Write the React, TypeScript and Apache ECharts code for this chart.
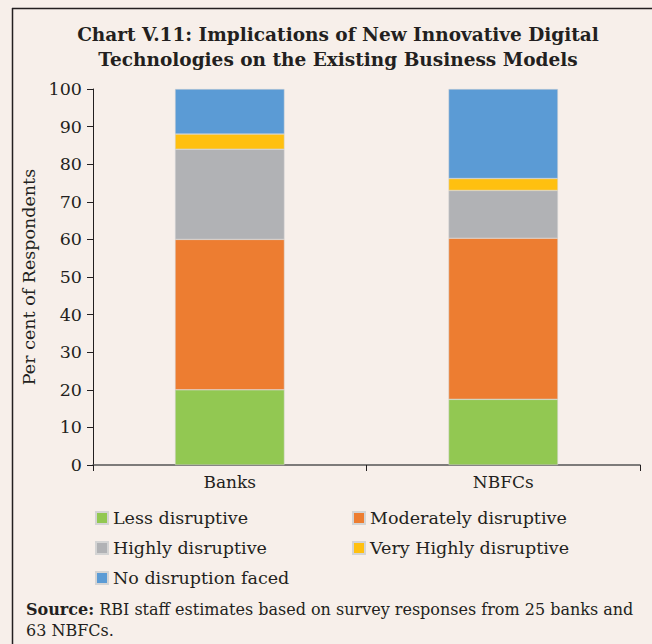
import React, { useEffect, useRef } from "react";
import * as echarts from "echarts";

const categories = ["Banks", "NBFCs"];
const seriesNames = [
  "Less disruptive",
  "Moderately disruptive",
  "Highly disruptive",
  "Very Highly disruptive",
  "No disruption faced",
];
const lessDisruptive = [20, 17.46];
const moderatelyDisruptive = [40, 42.86];
const highlyDisruptive = [24, 12.7];
const veryHighlyDisruptive = [4, 3.17];
const noDisruption = [12, 23.81];
const colors = ["#92c852", "#ed7d31", "#b1b2b5", "#ffc010", "#5b9bd5"];

const FONT = "DejaVu Serif";

export default function App() {
  const ref = useRef<HTMLDivElement>(null);
  useEffect(() => {
    if (!ref.current) return;
    const chart = echarts.init(ref.current, null, { renderer: "svg" });
    const values = [lessDisruptive, moderatelyDisruptive, highlyDisruptive, veryHighlyDisruptive, noDisruption];
    chart.setOption({
      animation: false,
      backgroundColor: "#f7efea",
      textStyle: { fontFamily: FONT, color: "#231f20" },
      title: {
        text: "Chart V.11: Implications of New Innovative Digital\nTechnologies on the Existing Business Models",
        left: 333,
        textAlign: "center",
        top: 17,
        textStyle: { fontFamily: FONT, fontWeight: "bold", fontSize: 18.5, lineHeight: 25, color: "#231f20" },
      },
      grid: { left: 93, right: 12, top: 89, bottom: 179 },
      xAxis: {
        type: "category",
        data: categories,
        axisLine: { lineStyle: { color: "#555", width: 1.5 } },
        axisTick: { show: true, alignWithLabel: false, length: 6, lineStyle: { color: "#231f20" } },
        axisLabel: { fontFamily: FONT, fontSize: 17, color: "#231f20", margin: 8 },
      },
      yAxis: {
        type: "value",
        min: 0,
        max: 100,
        interval: 10,
        name: "Per cent of Respondents",
        nameLocation: "middle",
        nameGap: 44,
        nameTextStyle: { fontFamily: FONT, fontSize: 17.5, color: "#231f20" },
        axisLine: { show: true, lineStyle: { color: "#231f20" } },
        axisTick: { show: true, length: 6, lineStyle: { color: "#231f20" } },
        splitLine: { show: false },
        axisLabel: { fontFamily: FONT, fontSize: 17.5, color: "#231f20", margin: 11 },
      },
      legend: [
        {
          data: [seriesNames[0], seriesNames[2], seriesNames[4]],
          orient: "vertical",
          left: 90,
          top: 504,
          itemWidth: 12,
          itemHeight: 12,
          itemGap: 12,
          icon: "rect",
          textStyle: { fontFamily: FONT, fontSize: 17.5, color: "#231f20" },
        },
        {
          data: [seriesNames[1], seriesNames[3]],
          orient: "vertical",
          left: 347,
          top: 504,
          itemWidth: 12,
          itemHeight: 12,
          itemGap: 12,
          icon: "rect",
          textStyle: { fontFamily: FONT, fontSize: 17.5, color: "#231f20" },
        },
      ],
      series: seriesNames.map((name, i) => ({
        name,
        type: "bar",
        stack: "total",
        barWidth: "40%",
        data: values[i],
        itemStyle: { color: colors[i], borderColor: "#d4d4d4", borderWidth: 0.5 },
      })),
      graphic: [
        {
          type: "line",
          shape: { x1: 12, y1: 8.5, x2: 652, y2: 8.5 },
          style: { stroke: "#231f20", lineWidth: 1.5 },
        },
        {
          type: "line",
          shape: { x1: 12.5, y1: 8, x2: 12.5, y2: 644 },
          style: { stroke: "#231f20", lineWidth: 1.5 },
        },
        {
          type: "text",
          left: 26,
          top: 599,
          style: {
            text: "{b|Source:} RBI staff estimates based on survey responses from 25 banks and\n63 NBFCs.",
            fontFamily: FONT,
            fontSize: 16,
            lineHeight: 21,
            fill: "#231f20",
            rich: {
              b: { fontFamily: FONT, fontWeight: "bold", fontSize: 16, fill: "#231f20" },
            },
          },
        },
      ],
    });
    return () => chart.dispose();
  }, []);
  return <div ref={ref} style={{ width: 652, height: 644, position: "absolute", left: 0, top: 0 }} />;
}
